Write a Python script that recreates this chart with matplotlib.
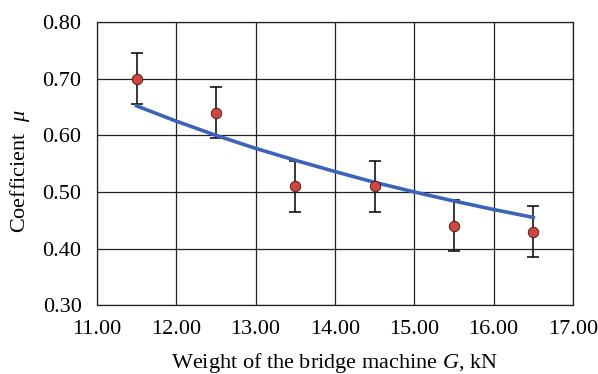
import numpy as np
import matplotlib
matplotlib.use("Agg")
import matplotlib.pyplot as plt

matplotlib.rcParams.update({
    "font.family": ["Liberation Serif", "DejaVu Serif"],
    "mathtext.fontset": "custom",
    "mathtext.it": "Liberation Serif:italic",
    "mathtext.rm": "Liberation Serif",
})

# measured points
weight = [11.5, 12.5, 13.5, 14.5, 15.5, 16.5]
mu = [0.70, 0.64, 0.51, 0.51, 0.44, 0.43]
mu_err = [0.045, 0.045, 0.045, 0.045, 0.045, 0.045]

# trend curve
fit_weight = [11.5, 12.0, 12.5, 13.0, 13.5, 14.0, 14.5, 15.0, 15.5, 16.0, 16.5]
fit_mu = [0.652, 0.625, 0.600, 0.577, 0.556, 0.536, 0.517, 0.500, 0.484, 0.469, 0.455]

fig = plt.figure(figsize=(5.98, 3.74), dpi=100)
ax = fig.add_axes([0.162, 0.184, 0.796, 0.757])

ax.plot(fit_weight, fit_mu, color="#3B64B9", linewidth=2.6, zorder=3)
ax.errorbar(weight, mu, yerr=mu_err, fmt="none", ecolor="black",
            elinewidth=1.1, capsize=4.5, capthick=1.1, zorder=2)
ax.plot(weight, mu, "o", markersize=7.5, markerfacecolor="#D0463F",
        markeredgecolor="#4a2020", markeredgewidth=0.7, zorder=4)

ax.set_xlim(11, 17)
ax.set_ylim(0.3, 0.8)
ax.set_xticks(np.arange(11, 17.01, 1.0))
ax.set_yticks(np.arange(0.3, 0.801, 0.1))
ax.xaxis.set_major_formatter(matplotlib.ticker.FormatStrFormatter("%.2f"))
ax.yaxis.set_major_formatter(matplotlib.ticker.FormatStrFormatter("%.2f"))
ax.tick_params(length=0, labelsize=16, pad=11)

ax.grid(True, color="#222222", linewidth=0.9)
ax.set_axisbelow(True)
for s in ax.spines.values():
    s.set_color("#222222")
    s.set_linewidth(0.9)

ax.set_xlabel("Weight of the bridge machine $G$, kN", fontsize=16, labelpad=8)
ax.set_ylabel("Coefficient  $\\mu$", fontsize=16)
ax.yaxis.set_label_coords(-0.137, 0.475)

fig.savefig("out.png", dpi=100)
